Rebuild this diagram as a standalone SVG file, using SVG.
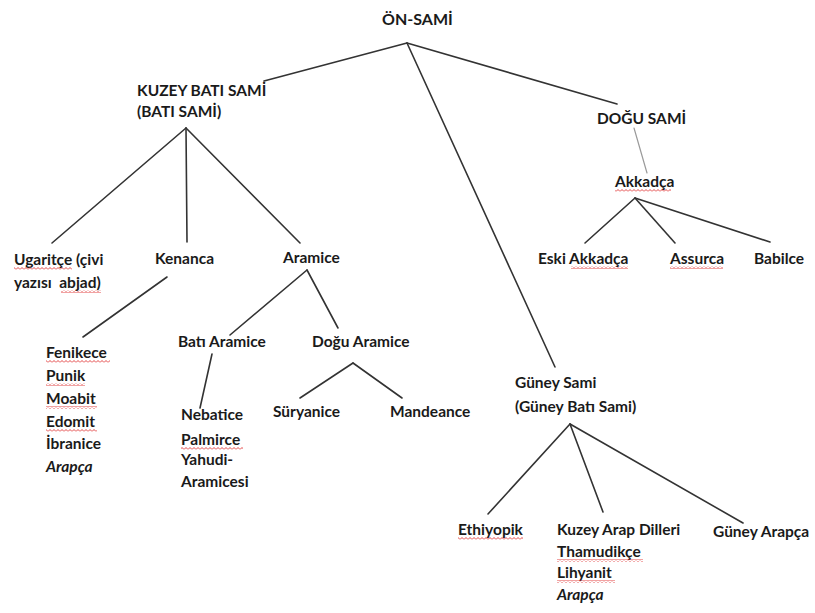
<svg xmlns="http://www.w3.org/2000/svg" width="815" height="613" viewBox="0 0 815 613">
<defs>
<style>
text{font-family:Lato,"Open Sans","Liberation Sans",sans-serif;font-weight:bold;font-size:15.5px;fill:#1a1a1a}
.i{font-style:italic}
.t{font-size:16px}
.c line{stroke:#333;stroke-width:1.6;stroke-linecap:round}
.c line.g{stroke:#9a9a9a;stroke-width:1.2}
.sq{fill:url(#wave)}
</style>
<pattern id="wave" width="4" height="3" patternUnits="userSpaceOnUse">
<path d="M0,2.5 L2,0.5 L4,2.5" fill="none" stroke="#e03030" stroke-width="0.9"/>
</pattern>
</defs>
<rect width="815" height="613" fill="#fff"/>
<g class="c" id="connectors">
<line x1="407" y1="43" x2="264" y2="81"/>
<line x1="407" y1="43" x2="617" y2="104"/>
<line x1="407" y1="43" x2="555" y2="367"/>
<line x1="186" y1="128" x2="52" y2="243"/>
<line x1="186" y1="128" x2="187" y2="242"/>
<line x1="186" y1="128" x2="300" y2="243"/>
<line x1="167" y1="277" x2="83" y2="337"/>
<line x1="307" y1="270" x2="230" y2="335"/>
<line x1="307" y1="270" x2="338" y2="328"/>
<line x1="212" y1="354" x2="200" y2="408"/>
<line x1="353" y1="363" x2="300" y2="398"/>
<line x1="353" y1="363" x2="402" y2="398"/>
<line class="g" x1="634" y1="128" x2="647" y2="173"/>
<line x1="635" y1="198" x2="585" y2="243"/>
<line x1="635" y1="198" x2="675" y2="243"/>
<line x1="635" y1="198" x2="770" y2="242"/>
<line x1="570" y1="424" x2="488" y2="514"/>
<line x1="570" y1="424" x2="603" y2="512"/>
<line x1="570" y1="424" x2="743" y2="523"/>
</g>
<g id="on-sami"><text class="t" x="382" y="25">ÖN-SAMİ</text></g>
<g id="kuzey-bati-sami"><text x="137" y="96">KUZEY BATI SAMİ</text><text x="137" y="117">(BATI SAMİ)</text></g>
<g id="dogu-sami"><text x="597" y="124">DOĞU SAMİ</text></g>
<g id="akkadca"><text x="615" y="187">Akkadça</text><rect class="sq" x="615" y="189" width="56" height="3"/></g>
<g id="eski-akkadca"><text x="538" y="264">Eski Akkadça</text><rect class="sq" x="571" y="266" width="57" height="3"/></g>
<g id="assurca"><text x="670" y="264">Assurca</text><rect class="sq" x="670" y="266" width="53" height="3"/></g>
<g id="babilce"><text x="754" y="264">Babilce</text></g>
<g id="ugaritce"><text x="14" y="265">Ugaritçe (çivi</text><text x="14" y="288" style="white-space:pre">yazısı  abjad)</text><rect class="sq" x="14" y="267" width="58" height="3"/><rect class="sq" x="61" y="290" width="40" height="3"/></g>
<g id="kenanca"><text x="155" y="264">Kenanca</text></g>
<g id="aramice"><text x="283" y="263">Aramice</text></g>
<g id="kenanca-dilleri">
<text x="46" y="358">Fenikece</text><rect class="sq" x="46" y="360" width="64" height="3"/>
<text x="46" y="381">Punik</text><rect class="sq" x="46" y="383" width="39" height="3"/>
<text x="46" y="404">Moabit</text><rect class="sq" x="46" y="406" width="51" height="3"/>
<text x="46" y="427">Edomit</text><rect class="sq" x="46" y="429" width="51" height="3"/>
<text x="46" y="449">İbranice</text>
<text class="i" x="46" y="472">Arapça</text>
</g>
<g id="bati-aramice"><text x="178" y="347">Batı Aramice</text></g>
<g id="dogu-aramice"><text x="312" y="347">Doğu Aramice</text></g>
<g id="bati-aramice-dilleri">
<text x="181" y="420">Nebatice</text>
<text x="181" y="445">Palmirce</text><rect class="sq" x="181" y="447" width="62" height="3"/>
<text x="181" y="465">Yahudi-</text>
<text x="181" y="487">Aramicesi</text>
</g>
<g id="suryanice"><text x="273" y="417">Süryanice</text></g>
<g id="mandeance"><text x="390" y="417">Mandeance</text></g>
<g id="guney-sami"><text x="515" y="388">Güney Sami</text><text x="515" y="412">(Güney Batı Sami)</text></g>
<g id="ethiyopik"><text x="458" y="535">Ethiyopik</text><rect class="sq" x="458" y="537" width="65" height="3"/></g>
<g id="kuzey-arap">
<text x="557" y="535">Kuzey Arap Dilleri</text>
<text x="557" y="557">Thamudikçe</text><rect class="sq" x="557" y="559" width="86" height="3"/>
<text x="557" y="578">Lihyanit</text><rect class="sq" x="557" y="580" width="58" height="3"/>
<text class="i" x="557" y="600">Arapça</text>
</g>
<g id="guney-arapca"><text x="713" y="537">Güney Arapça</text></g>
</svg>
